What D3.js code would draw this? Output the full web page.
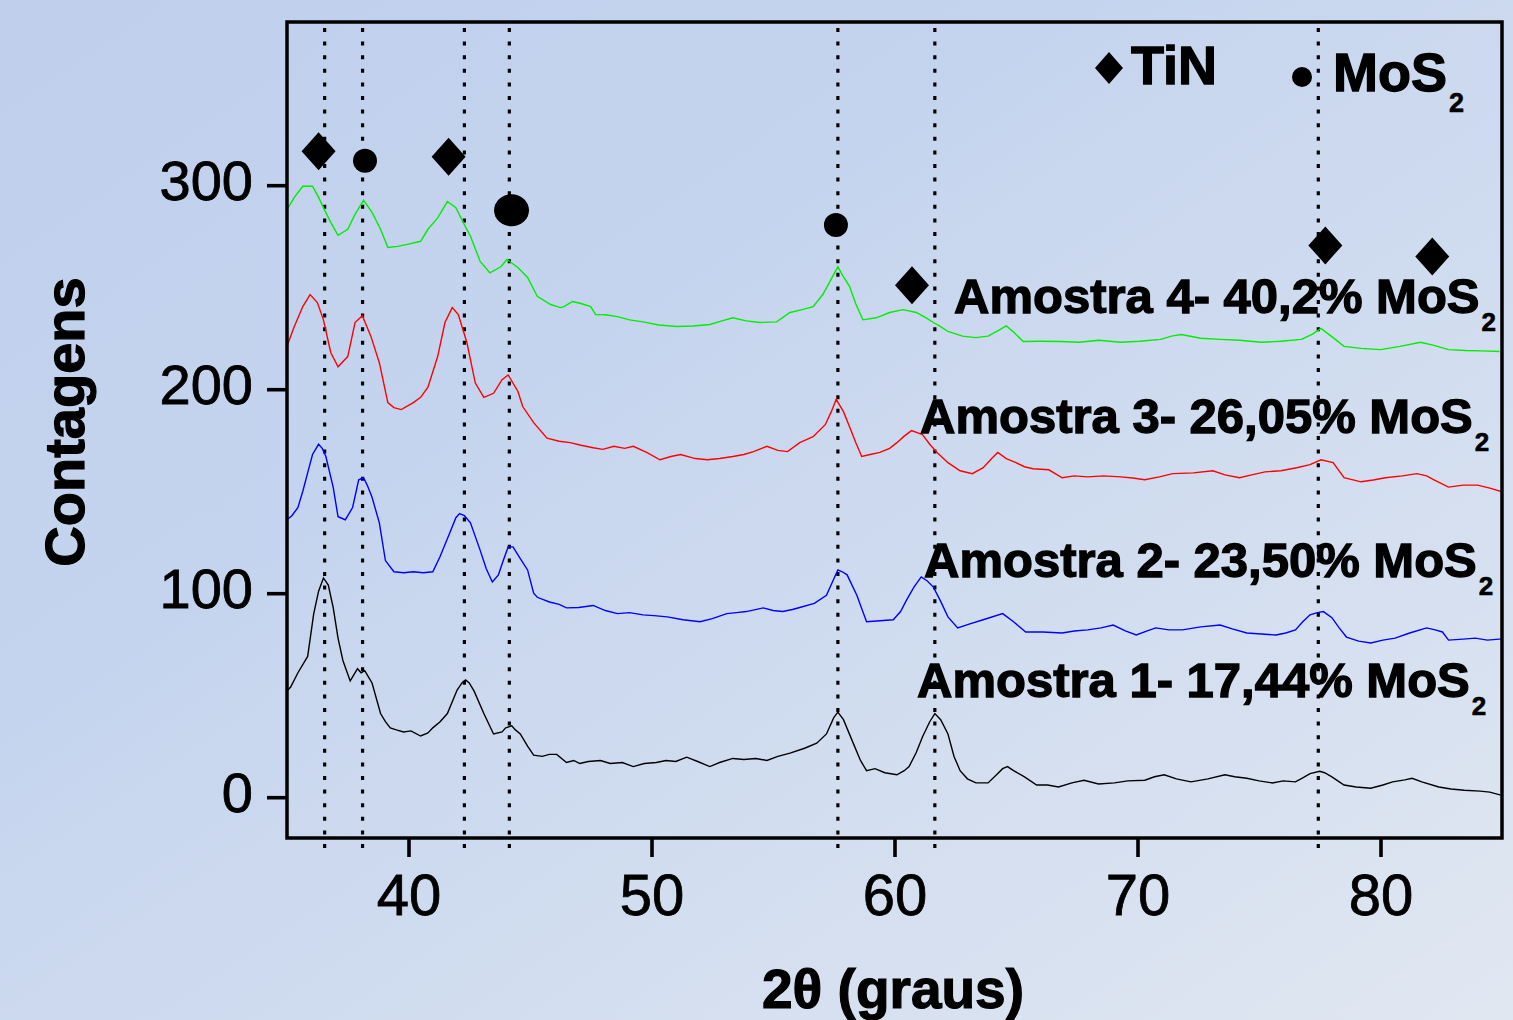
<!DOCTYPE html>
<html>
<head>
<meta charset="utf-8">
<script src="https://cdn.jsdelivr.net/npm/d3@7"></script>
<style>
  body { margin: 0; overflow: hidden; }
  text { font-family: "Liberation Sans", Arial, sans-serif; }
</style>
</head>
<body>
<script>
// XRD patterns, 2theta (graus) vs contagens
var amostra1 = [[35.0,52],[35.15,54],[35.45,61],[35.85,69],[36.1,90],[36.3,101],[36.5,107.5],[36.7,104],[36.9,93],[37.1,78],[37.3,67],[37.6,57],[37.75,60],[37.9,63],[38.05,61],[38.2,62],[38.35,59],[38.5,56],[38.85,41],[39.05,37],[39.25,34],[39.5,33],[39.8,32],[40.1,32.5],[40.5,30],[40.8,31.5],[41.0,34],[41.3,37],[41.6,41],[42.0,52.5],[42.2,56],[42.35,57.5],[42.5,56],[42.7,52],[43.1,41],[43.5,31],[43.85,32],[44.0,34],[44.25,35],[44.4,33],[44.6,31],[44.9,25],[45.15,20.6],[45.5,20],[45.8,21],[46.1,21],[46.5,17],[46.8,18],[47.05,16.5],[47.4,17.5],[47.9,18],[48.3,16.5],[48.8,17],[49.25,15],[49.7,16.5],[50.2,17],[50.6,18],[51.0,17.5],[51.45,19.6],[51.9,17.5],[52.4,15],[52.8,17],[53.35,19],[53.8,18.5],[54.3,19],[54.75,18],[55.2,20],[55.7,21.6],[56.3,24],[56.8,26.5],[57.2,31],[57.5,39],[57.67,41.7],[57.9,38],[58.3,26.5],[58.6,18],[58.85,13],[59.2,14],[59.6,12],[60.1,11],[60.4,13],[60.6,15],[60.9,22],[61.15,29.5],[61.45,37],[61.66,41],[61.9,38],[62.2,31],[62.45,20],[62.7,13],[63.0,9],[63.35,7],[63.85,7],[64.2,11],[64.45,14],[64.65,15],[64.9,13],[65.35,10],[65.85,6],[66.3,6],[66.75,5],[67.3,7],[67.8,8.3],[68.4,6.5],[69.05,7],[69.6,8],[70.3,8.3],[70.7,10],[71.1,11],[71.6,9],[72.2,7.5],[72.9,9],[73.6,11],[74.0,10],[74.5,9.3],[75.0,8],[75.55,7],[76.0,8],[76.5,7.5],[76.8,9.5],[77.1,11.6],[77.5,12.7],[77.7,12],[78.0,10],[78.5,6],[79.0,5],[79.6,4.4],[80.1,6],[80.5,7.5],[81.0,8.5],[81.3,9.3],[81.7,7.5],[82.4,5],[82.9,4],[83.45,3.4],[84.1,3],[84.5,2.5],[84.95,1]];

var amostra2 = [[35.0,136],[35.2,138],[35.45,142],[35.65,150],[35.85,159],[36.05,168],[36.3,173],[36.45,171],[36.6,167],[36.9,152],[37.1,137.5],[37.4,136],[37.7,142],[37.95,155.6],[38.15,156.6],[38.3,153],[38.5,147],[38.8,134.5],[39.05,116],[39.4,110.5],[39.8,110],[40.2,110.5],[40.6,110],[41.0,110.5],[41.3,118],[41.7,129.6],[41.95,137],[42.1,139],[42.3,138],[42.55,134.5],[42.95,121],[43.2,112],[43.45,105.5],[43.7,109],[43.9,116],[44.1,122.7],[44.3,122.7],[44.6,117],[44.9,111.4],[45.15,100],[45.3,98],[45.8,95.7],[46.2,94.5],[46.5,92.8],[47.0,93],[47.6,94],[48.1,91.5],[48.6,90],[49.1,90.5],[49.65,89.4],[50.1,89],[50.65,88.4],[51.3,87],[52.0,86],[52.5,87.5],[53.1,90],[53.5,90.5],[53.9,91],[54.6,92.8],[55.0,91.5],[55.4,91],[55.8,92],[56.1,93],[56.7,95],[57.2,99],[57.5,107],[57.67,111.4],[57.85,110.5],[58.05,109],[58.45,99],[58.85,86],[59.4,86.5],[59.95,87],[60.25,91],[60.5,96.7],[60.8,103],[61.1,108],[61.35,106],[61.6,103],[61.9,96],[62.2,88.4],[62.6,83],[63.1,85],[63.65,87],[64.45,90],[64.9,86],[65.4,81],[66.1,81],[66.9,80.5],[67.4,81.5],[67.95,82],[68.5,83],[69.0,84.4],[69.5,81.5],[69.95,79.5],[70.4,81.5],[70.75,83],[71.3,82],[71.85,82],[72.6,83.5],[73.4,84.4],[73.9,82.5],[74.5,80.5],[75.1,80],[75.7,79.5],[76.1,80.5],[76.5,82],[76.8,86],[77.1,89.4],[77.4,90.5],[77.65,91],[78.0,88],[78.3,83],[78.6,78.5],[79.1,76.5],[79.6,75.6],[80.1,77],[80.6,78],[81.2,80.5],[81.9,83],[82.25,82],[82.55,81],[82.8,77],[83.4,77.5],[83.9,78],[84.4,77],[85.0,77.6]];

var amostra3 = [[35.0,221],[35.3,230.7],[35.65,240.5],[35.95,246.4],[36.25,242.5],[36.5,234],[36.8,218],[37.1,211],[37.5,216],[37.8,232.7],[38.1,236],[38.45,226],[38.8,213],[39.15,193.4],[39.4,191],[39.7,190],[40.2,193.4],[40.5,196],[40.8,201],[41.2,216],[41.5,232.7],[41.8,240],[42.05,236.6],[42.4,223],[42.75,203],[43.1,196],[43.5,198],[43.85,204.7],[44.1,207],[44.5,199],[44.7,191.5],[45.15,183.6],[45.7,176],[46.2,174.5],[46.65,173.8],[47.1,172.5],[47.6,171.3],[48.0,170.5],[48.45,172],[48.9,171],[49.25,172],[49.8,169],[50.35,165.4],[50.8,167],[51.2,168],[51.8,166],[52.3,165.4],[52.8,166],[53.35,167],[53.8,168],[54.2,169.4],[54.75,172],[55.2,170],[55.6,169.4],[56.1,173.8],[56.65,176.7],[57.15,182.6],[57.4,189],[57.6,195],[57.9,189],[58.15,181.6],[58.4,174],[58.65,167],[59.0,168],[59.4,169],[59.8,171],[60.1,173.8],[60.4,177],[60.7,179.7],[61.15,177.7],[61.45,173],[61.75,169],[62.2,164],[62.7,160],[63.2,158.6],[63.65,161.5],[64.0,166],[64.25,169],[64.6,166],[65.0,164],[65.35,162],[65.7,161],[66.35,160.5],[66.9,156.6],[67.4,157.5],[67.95,157],[68.6,157.5],[69.3,157],[69.8,156.5],[70.3,155.6],[70.9,157],[71.45,158.6],[72.3,159],[73.1,160],[73.6,158],[74.2,156.6],[74.7,158],[75.25,159.5],[75.9,160],[76.55,161.5],[77.1,163],[77.55,165.4],[78.05,164],[78.5,156.6],[79.2,154.6],[79.7,155.5],[80.2,156.6],[80.9,157.5],[81.5,158.6],[81.9,157.5],[82.2,155.6],[82.8,152],[83.4,153],[84.0,153],[84.5,151.5],[85.0,149.7]];

var amostra4 = [[35.0,288],[35.3,294],[35.65,299.5],[36.05,299.5],[36.3,294],[36.5,289],[36.8,281.8],[37.1,275.4],[37.5,278.4],[37.8,285.7],[38.15,292.6],[38.5,286.7],[38.85,278.4],[39.15,269.5],[39.55,270],[39.95,271],[40.5,272.5],[40.8,278.4],[41.2,284],[41.6,292],[41.95,289],[42.25,281.8],[42.55,275],[42.95,262.6],[43.35,257],[43.8,260],[44.05,263.6],[44.5,259.7],[44.9,254.8],[45.3,245.5],[45.85,241.5],[46.25,240],[46.4,240.5],[46.75,243],[47.1,242],[47.5,240.5],[47.7,236.6],[48.1,236.5],[48.6,235.6],[49.1,234],[49.65,233],[50.3,231.5],[51.05,230.7],[51.7,231],[52.4,231.7],[52.9,233.5],[53.35,235],[53.9,233.5],[54.45,232.7],[55.15,233],[55.7,237.6],[56.2,239],[56.65,240.5],[57.05,246.4],[57.35,253],[57.67,260],[57.9,255],[58.15,250.4],[58.4,242],[58.7,234],[59.25,235],[59.8,237.6],[60.35,239],[60.9,237.6],[61.3,235],[61.6,232.7],[61.85,231],[62.2,228.3],[62.8,226],[63.35,225.3],[63.85,226],[64.3,229],[64.6,231],[64.9,228],[65.3,223.4],[66.0,223.5],[66.85,223.4],[67.6,223],[68.4,224],[69.3,223],[70.1,223.5],[70.95,224.4],[71.4,226],[71.8,226.8],[72.6,225],[73.4,224.4],[74.2,224],[75.1,223],[75.9,223.5],[76.75,224.4],[77.2,227],[77.55,229.8],[78.05,225.3],[78.5,221],[79.2,220],[80.0,219.4],[80.8,221],[81.65,223],[82.2,221.5],[82.8,219.4],[83.5,219],[84.2,218.8],[84.9,218.5]];

var seriesColors = ["#000000", "#0000ff", "#ff0000", "#00ee00"];
var seriesLabels = ["Amostra 1- 17,44% MoS", "Amostra 2- 23,50% MoS", "Amostra 3- 26,05% MoS", "Amostra 4- 40,2% MoS"];

// reference peak positions (dotted lines)
var peakLines = [36.55, 38.11, 42.30, 44.15, 57.67, 61.66, 77.44];

// phase markers: [2theta, counts]
var tinMarks = [[36.30, 316.6], [41.65, 314], [60.72, 250.9], [77.73, 270.5], [82.13, 265]];
var mos2Marks = [[38.21, 312], [57.59, 280.5]];
var mos2BigMarks = [[44.24, 287.7]];

var xTicks = [40, 50, 60, 70, 80];
var yTicks = [0, 100, 200, 300];

var width = 1513, height = 1020;
var pLeft = 287, pRight = 1502, pTop = 22, pBottom = 838;

var svg = d3.select("body").append("svg")
    .attr("width", width)
    .attr("height", height);

var defs = svg.append("defs");
var grad = defs.append("linearGradient")
    .attr("id", "bg")
    .attr("x1", "0").attr("y1", "0").attr("x2", "1").attr("y2", "1");
grad.append("stop").attr("offset", "0").attr("stop-color", "#bfcfec");
grad.append("stop").attr("offset", "0.35").attr("stop-color", "#c5d4ee");
grad.append("stop").attr("offset", "1").attr("stop-color", "#e0e7f1");

defs.append("clipPath").attr("id", "plotclip")
  .append("rect")
    .attr("x", pLeft).attr("y", pTop)
    .attr("width", pRight - pLeft).attr("height", pBottom - pTop);

svg.append("rect")
    .attr("width", width).attr("height", height)
    .attr("fill", "url(#bg)");

var x = d3.scaleLinear().domain([35, 85]).range([pLeft, pRight]);
var y = d3.scaleLinear().domain([-20, 380]).range([pBottom, pTop]);

// dotted reference lines
svg.append("g")
    .selectAll("line")
    .data(peakLines)
    .enter().append("line")
    .attr("x1", function(d){ return x(d); })
    .attr("x2", function(d){ return x(d); })
    .attr("y1", pTop + 6)
    .attr("y2", pBottom + 10)
    .attr("stroke", "#000")
    .attr("stroke-width", 3.2)
    .attr("stroke-dasharray", "4,9.6");

// spectra
var line = d3.line()
    .x(function(d){ return x(d[0]); })
    .y(function(d){ return y(d[1]); });

svg.append("g")
    .attr("clip-path", "url(#plotclip)")
    .selectAll("path")
    .data([amostra1, amostra2, amostra3, amostra4])
    .enter().append("path")
    .attr("fill", "none")
    .attr("stroke", function(d, i){ return seriesColors[i]; })
    .attr("stroke-width", 1.4)
    .attr("d", line);

// axes
var xAxis = svg.append("g")
    .attr("transform", "translate(0," + pBottom + ")")
    .call(d3.axisBottom(x).tickValues(xTicks).tickSize(19).tickPadding(17));
var yAxis = svg.append("g")
    .attr("transform", "translate(" + pLeft + ",0)")
    .call(d3.axisLeft(y).tickValues(yTicks).tickSize(20).tickPadding(14));

[xAxis, yAxis].forEach(function(a){
  a.select(".domain").remove();
  a.selectAll(".tick line").attr("stroke", "#000").attr("stroke-width", 3.6);
  a.selectAll(".tick text")
    .attr("fill", "#000")
    .attr("stroke", "#000")
    .attr("stroke-width", 0.8)
    .style("font-size", "56px")
    .style("font-family", "'Liberation Sans', Arial, sans-serif");
});
yAxis.selectAll(".tick text").attr("dy", "0.25em");
xAxis.selectAll(".tick text").style("font-size", "58px");

// frame
svg.append("rect")
    .attr("x", pLeft).attr("y", pTop)
    .attr("width", pRight - pLeft).attr("height", pBottom - pTop)
    .attr("fill", "none")
    .attr("stroke", "#000")
    .attr("stroke-width", 3.5);

// markers
var diamond = function(cx, cy, w, h) {
  return "M" + cx + "," + (cy - h) + "L" + (cx + w) + "," + cy + "L" + cx + "," + (cy + h) + "L" + (cx - w) + "," + cy + "Z";
};
svg.append("g")
    .selectAll("path")
    .data(tinMarks)
    .enter().append("path")
    .attr("d", function(d){ return diamond(x(d[0]), y(d[1]), 17, 19); })
    .attr("fill", "#000");
svg.append("g")
    .selectAll("circle")
    .data(mos2Marks)
    .enter().append("circle")
    .attr("cx", function(d){ return x(d[0]); })
    .attr("cy", function(d){ return y(d[1]); })
    .attr("r", 12)
    .attr("fill", "#000");
svg.append("g")
    .selectAll("ellipse")
    .data(mos2BigMarks)
    .enter().append("ellipse")
    .attr("cx", function(d){ return x(d[0]); })
    .attr("cy", function(d){ return y(d[1]); })
    .attr("rx", 17.5)
    .attr("ry", 16)
    .attr("fill", "#000");

// series labels (x start, baseline in px)
var labelPos = [[917, 697], [924, 577], [920, 433], [954, 313]];
var labels = svg.append("g")
    .attr("font-weight", "bold").attr("fill", "#000")
    .attr("stroke", "#000").attr("stroke-width", 1.3);
labelPos.forEach(function(p, i){
  var t = labels.append("text")
      .attr("x", p[0]).attr("y", p[1])
      .style("font-size", "49px")
      .text(seriesLabels[i]);
  var w = t.node().getComputedTextLength();
  labels.append("text")
      .attr("x", p[0] + w + 2).attr("y", p[1] + 18)
      .attr("stroke-width", 0.6)
      .style("font-size", "26px")
      .text("2");
});

// legend
var legend = svg.append("g")
    .attr("font-weight", "bold").attr("fill", "#000")
    .attr("stroke", "#000").attr("stroke-width", 1.3);
legend.append("path").attr("d", diamond(1109, 68, 14, 16)).attr("stroke", "none");
legend.append("text").attr("x", 1131).attr("y", 84).style("font-size", "54px").text("TiN");
legend.append("circle").attr("cx", 1302).attr("cy", 77).attr("r", 10).attr("stroke", "none");
var mosT = legend.append("text").attr("x", 1333).attr("y", 91).style("font-size", "54px").text("MoS");
legend.append("text")
    .attr("x", 1333 + mosT.node().getComputedTextLength() + 2).attr("y", 112)
    .attr("stroke-width", 0.6)
    .style("font-size", "27px").text("2");

// axis titles
svg.append("text")
    .attr("x", 893).attr("y", 1008)
    .attr("text-anchor", "middle")
    .attr("font-weight", "bold")
    .attr("stroke", "#000").attr("stroke-width", 1.2)
    .style("font-size", "55px")
    .text("2\u03b8 (graus)");

svg.append("text")
    .attr("transform", "translate(84,422) rotate(-90)")
    .attr("text-anchor", "middle")
    .attr("font-weight", "bold")
    .attr("stroke", "#000").attr("stroke-width", 1.2)
    .style("font-size", "56px")
    .text("Contagens");
</script>
</body>
</html>
